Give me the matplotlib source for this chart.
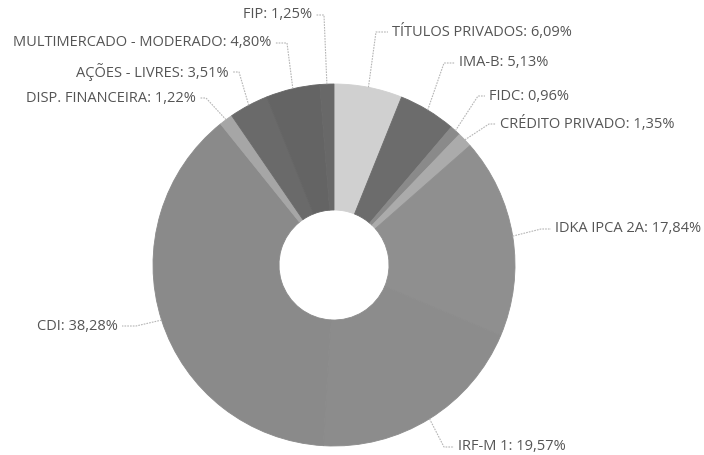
import numpy as np
import matplotlib
matplotlib.use("Agg")
import matplotlib.pyplot as plt

# ---- data ----
labels = ["TÍTULOS PRIVADOS", "IMA-B", "FIDC", "CRÉDITO PRIVADO", "IDKA IPCA 2A",
          "IRF-M 1", "CDI", "DISP. FINANCEIRA", "AÇÕES - LIVRES",
          "MULTIMERCADO - MODERADO", "FIP"]
values = [6.09, 5.13, 0.96, 1.35, 17.84, 19.57, 38.28, 1.22, 3.51, 4.80, 1.25]
value_text = ["6,09%", "5,13%", "0,96%", "1,35%", "17,84%", "19,57%", "38,28%",
              "1,22%", "3,51%", "4,80%", "1,25%"]

# ---- style ----
colors = ["#d0d0d0", "#6c6c6c", "#8a8a8a", "#ababab", "#8f8f8f", "#8c8c8c",
          "#8a8a8a", "#a6a6a6", "#6a6a6a", "#646464", "#686868"]

W, H = 704, 455
fig = plt.figure(figsize=(W / 100, H / 100), dpi=100)
ax = fig.add_axes([0, 0, 1, 1])

cx, cy_top, R = 334, 265, 181
cy = H - cy_top
hole = 55

wedges, _ = ax.pie(values, colors=colors, startangle=90, counterclock=False,
                   radius=R, center=(cx, cy), frame=True,
                   wedgeprops=dict(width=R - hole, linewidth=0.6))
for w, c in zip(wedges, colors):
    w.set_edgecolor(c)
ax.set_xlim(0, W)
ax.set_ylim(0, H)
ax.set_aspect("equal")
ax.axis("off")

# label layout in pixel coords (top-based y): elbow x, y, text x, ha
layout = {
    "TÍTULOS PRIVADOS": (376, 32, 392, "left"),
    "IMA-B": (444, 63, 459, "left"),
    "FIDC": (478, 96, 489, "left"),
    "CRÉDITO PRIVADO": (489, 124, 500, "left"),
    "IDKA IPCA 2A": (541, 229, 555, "left"),
    "IRF-M 1": (444, 447, 458, "left"),
    "CDI": (136, 326, 118, "right"),
    "DISP. FINANCEIRA": (206, 98, 196, "right"),
    "AÇÕES - LIVRES": (239, 72, 229, "right"),
    "MULTIMERCADO - MODERADO": (287, 43, 271, "right"),
    "FIP": (324, 15, 312, "right"),
}

line_kw = dict(color="#b5b5b5", lw=0.8, ls=(0, (1.5, 1)))
for w, lab, vt in zip(wedges, labels, value_text):
    ang = np.deg2rad((w.theta1 + w.theta2) / 2)
    ex, ey = cx + R * np.cos(ang), cy + R * np.sin(ang)
    bx, by_top, tx, ha = layout[lab]
    by = H - by_top
    gap = 4 if ha == "left" else -4
    ax.plot([ex, bx, tx - gap], [ey, by, by], **line_kw)
    ax.text(tx, by, f"{lab}: {vt}", ha=ha, va="center", fontsize=10.5,
            family="Open Sans", color="#555555")

fig.savefig("out.png", dpi=100, facecolor="white")
